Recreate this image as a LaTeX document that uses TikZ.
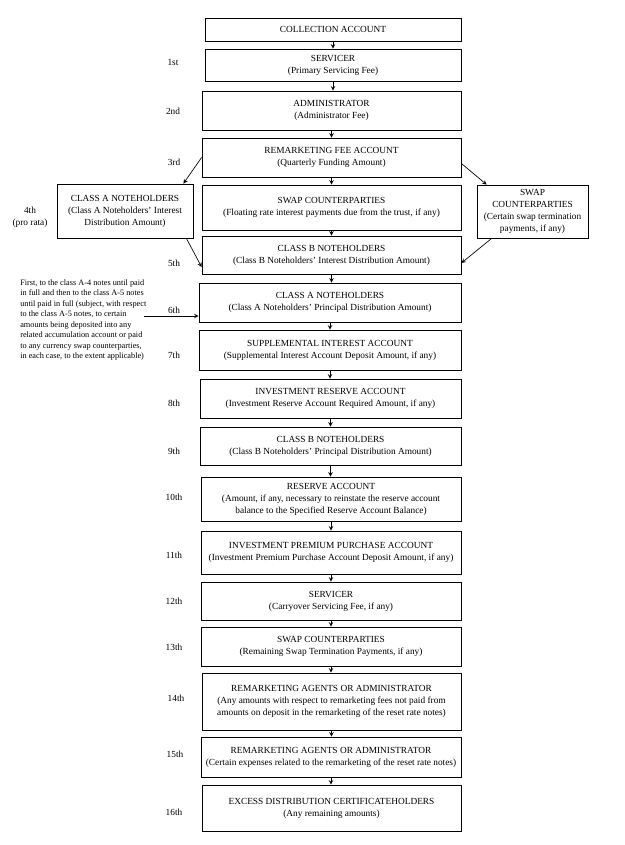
\documentclass[tikz,border=0pt]{standalone}
\usepackage{fontspec}
\setmainfont{Liberation Serif}
\usetikzlibrary{}

\begin{document}
\begin{tikzpicture}[x=0.75pt, y=-0.75pt,
  box/.style={draw, line width=0.6pt, align=center, inner sep=1pt, font=\fontsize{7}{9}\selectfont},
  boxsize/.style 2 args={minimum width=#1*0.75pt, minimum height=#2*0.75pt},
  rank/.style={align=center, inner sep=0pt, font=\fontsize{7}{9}\selectfont},
  flow/.style={-stealth, line width=0.5pt}]
  \useasboundingbox (0,0) rectangle (624,845);
  % main column
  \node[box, boxsize={256}{23}] (coll) at (333,29.5) {COLLECTION ACCOUNT};
  \node[box, boxsize={256}{32}] (serv) at (333,65) {SERVICER\\(Primary Servicing Fee)};
  \node[box, boxsize={259}{39}] (admin) at (331.5,110.5) {ADMINISTRATOR\\(Administrator Fee)};
  \node[box, boxsize={259}{39}] (remfee) at (331.5,157.5) {REMARKETING FEE ACCOUNT\\(Quarterly Funding Amount)};
  \node[box, boxsize={259}{45}] (swapmid) at (331.5,207.5) {SWAP COUNTERPARTIES\\(Floating rate interest payments due from the trust, if any)};
  \node[box, boxsize={259}{38}] (classBint) at (331.5,255) {CLASS B NOTEHOLDERS\\(Class B Noteholders’ Interest Distribution Amount)};
  \node[box, boxsize={262}{39}] (classAprin) at (330,302.5) {CLASS A NOTEHOLDERS\\(Class A Noteholders’ Principal Distribution Amount)};
  \node[box, boxsize={262}{40}] (supp) at (330,350) {SUPPLEMENTAL INTEREST ACCOUNT\\(Supplemental Interest Account Deposit Amount, if any)};
  \node[box, boxsize={261}{39}] (invres) at (330.5,398.5) {INVESTMENT RESERVE ACCOUNT\\(Investment Reserve Account Required Amount, if any)};
  \node[box, boxsize={261}{38}] (classBprin) at (330.5,446) {CLASS B NOTEHOLDERS\\(Class B Noteholders’ Principal Distribution Amount)};
  \node[box, boxsize={260}{44}] (reserve) at (331,499) {RESERVE ACCOUNT\\(Amount, if any, necessary to reinstate the reserve account\\balance to the Specified Reserve Account Balance)};
  \node[box, boxsize={260}{43}] (invprem) at (331,552.5) {INVESTMENT PREMIUM PURCHASE ACCOUNT\\(Investment Premium Purchase Account Deposit Amount, if any)};
  \node[box, boxsize={260}{38}] (servcarry) at (331,601) {SERVICER\\(Carryover Servicing Fee, if any)};
  \node[box, boxsize={260}{39}] (swapterm) at (331,646.5) {SWAP COUNTERPARTIES\\(Remaining Swap Termination Payments, if any)};
  \node[box, boxsize={259}{57}] (remagfees) at (331.5,701.5) {REMARKETING AGENTS OR ADMINISTRATOR\\(Any amounts with respect to remarketing fees not paid from\\amounts on deposit in the remarketing of the reset rate notes)};
  \node[box, boxsize={260}{40}] (remagexp) at (331,757) {REMARKETING AGENTS OR ADMINISTRATOR\\(Certain expenses related to the remarketing of the reset rate notes)};
  \node[box, boxsize={259}{46}] (excess) at (331.5,808) {EXCESS DISTRIBUTION CERTIFICATEHOLDERS\\(Any remaining amounts)};
  % side boxes
  \node[box, boxsize={136}{54}] (classAint) at (125,211) {CLASS A NOTEHOLDERS\\(Class A Noteholders’ Interest\\Distribution Amount)};
  \node[box, boxsize={111}{53}] (swapright) at (532.5,211.5) {SWAP\\COUNTERPARTIES\\(Certain swap termination\\payments, if any)};
  \node[anchor=west, align=left, inner sep=0pt, font=\fontsize{6.2}{7.9}\selectfont] (note) at (20,320)
    {First, to the class A-4 notes until paid\\in full and then to the class A-5 notes\\until paid in full (subject, with respect\\to the class A-5 notes, to certain\\amounts being deposited into any\\related accumulation account or paid\\to any currency swap counterparties,\\in each case, to the extent applicable)};
  \coordinate (notearrow) at (144,316);
  % order of priority
  \node[rank] (r1) at (173,62) {1st};
  \node[rank] (r2) at (173,111) {2nd};
  \node[rank] (r3) at (174,162) {3rd};
  \node[rank] (r4) at (30,217) {4th\\(pro rata)};
  \node[rank] (r5) at (174,263) {5th};
  \node[rank] (r6) at (174,310) {6th};
  \node[rank] (r7) at (174,355) {7th};
  \node[rank] (r8) at (174,403) {8th};
  \node[rank] (r9) at (174,451) {9th};
  \node[rank] (r10) at (174,497) {10th};
  \node[rank] (r11) at (174,555) {11th};
  \node[rank] (r12) at (174,601) {12th};
  \node[rank] (r13) at (174,647) {13th};
  \node[rank] (r14) at (176,698) {14th};
  \node[rank] (r15) at (175,754) {15th};
  \node[rank] (r16) at (174,812) {16th};
  % arrows down the column
  \draw[flow] (coll.south) -- (coll.south |- serv.north);
  \draw[flow] (serv.south) -- (serv.south |- admin.north);
  \draw[flow] (admin.south) -- (admin.south |- remfee.north);
  \draw[flow] (remfee.south) -- (remfee.south |- swapmid.north);
  \draw[flow] (swapmid.south) -- (swapmid.south |- classBint.north);
  \draw[flow] (classBint.south) -- (classBint.south |- classAprin.north);
  \draw[flow] (classAprin.south) -- (classAprin.south |- supp.north);
  \draw[flow] (supp.south) -- (supp.south |- invres.north);
  \draw[flow] (invres.south) -- (invres.south |- classBprin.north);
  \draw[flow] (classBprin.south) -- (classBprin.south |- reserve.north);
  \draw[flow] (reserve.south) -- (reserve.south |- invprem.north);
  \draw[flow] (invprem.south) -- (invprem.south |- servcarry.north);
  \draw[flow] (servcarry.south) -- (servcarry.south |- swapterm.north);
  \draw[flow] (swapterm.south) -- (swapterm.south |- remagfees.north);
  \draw[flow] (remagfees.south) -- (remagfees.south |- remagexp.north);
  \draw[flow] (remagexp.south) -- (remagexp.south |- excess.north);
  % arrows round the side boxes
  \draw[flow] (remfee.west) -- ([xshift=-7.5pt]classAint.north east);
  \draw[flow] ([xshift=-5.25pt]classAint.south east) -- ([yshift=-9pt]classBint.west);
  \draw[flow] ([yshift=-4.5pt]remfee.east) -- ([xshift=7.5pt]swapright.north west);
  \draw[flow] ([xshift=11.25pt]swapright.south west) -- ([yshift=-6pt]classBint.east);
  \draw[flow] (notearrow) -- (notearrow -| classAprin.west);
\end{tikzpicture}
\end{document}
